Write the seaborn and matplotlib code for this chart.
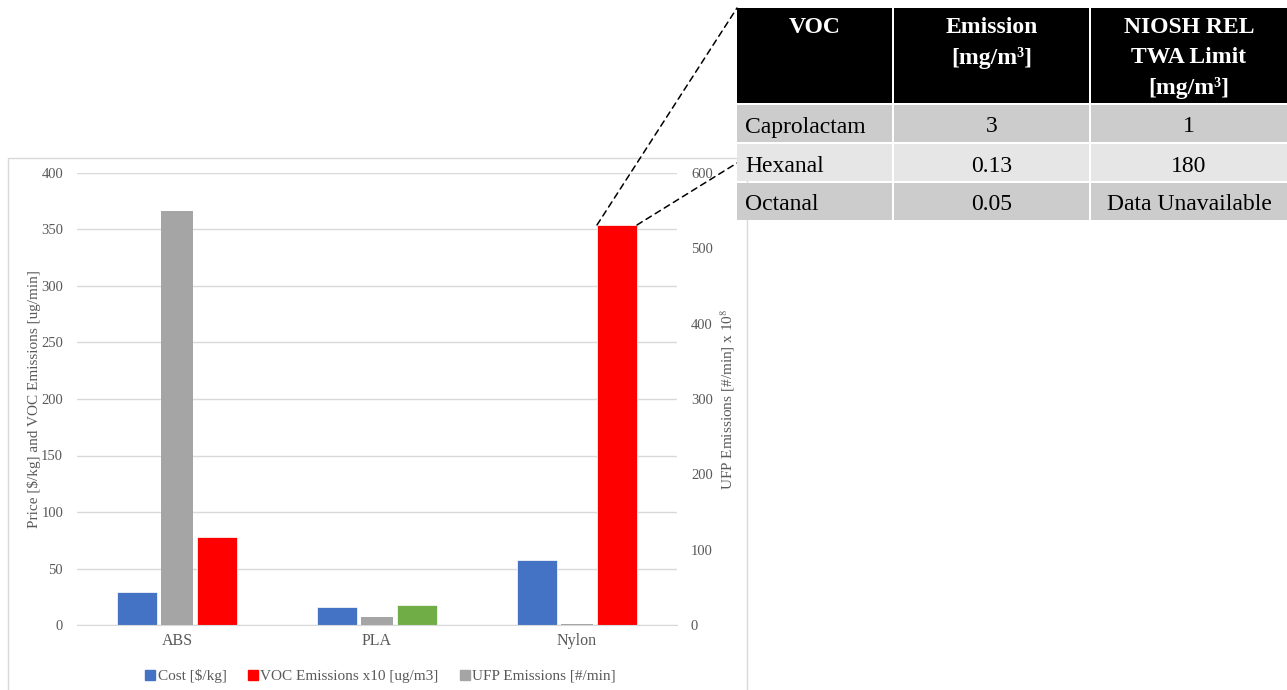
import numpy as np
import pandas as pd
import matplotlib
matplotlib.use('Agg')
import matplotlib.pyplot as plt
import seaborn as sns
from matplotlib.lines import Line2D
from matplotlib.patches import Rectangle, ConnectionPatch

# data
materials = ['ABS', 'PLA', 'Nylon']
cost = [29, 16, 57.5]            # $/kg
voc_x10 = [78, 17.8, 354]        # VOC emissions x10 [ug/m3]
ufp = [549, 10.7, 1.5]           # UFP emissions [#/min] x 1e8

series = ['Cost [$/kg]', 'UFP Emissions [#/min]', 'VOC Emissions x10 [ug/m3]']
colors = {'Cost [$/kg]': '#4472C4', 'UFP Emissions [#/min]': '#A5A5A5',
          'VOC Emissions x10 [ug/m3]': '#FF0000'}
pla_voc_color = '#70AD47'

# table data
tbl_header = ['VOC', 'Emission\n[mg/m³]', 'NIOSH REL\nTWA Limit\n[mg/m³]']
tbl_voc = ['Caprolactam', 'Hexanal', 'Octanal']
tbl_emission = ['3', '0.13', '0.05']
tbl_limit = ['1', '180', 'Data Unavailable']

prim = pd.DataFrame({
    'Material': materials * 3,
    'Series': [series[0]] * 3 + [series[1]] * 3 + [series[2]] * 3,
    'Value': cost + [np.nan] * 3 + voc_x10,
})
sec = pd.DataFrame({
    'Material': materials * 3,
    'Series': [series[0]] * 3 + [series[1]] * 3 + [series[2]] * 3,
    'Value': [np.nan] * 3 + ufp + [np.nan] * 3,
})

sns.set_style('white')
plt.rcParams['font.family'] = ['Liberation Serif', 'DejaVu Serif']
plt.rcParams['mathtext.fontset'] = 'stix'

W, H = 1287, 690
fig = plt.figure(figsize=(12.87, 6.90), dpi=100)

# chart frame
frame = Rectangle((8 / W, -0.01), (747 - 8) / W, (690 - 158) / H + 0.01,
                  transform=fig.transFigure, fill=False,
                  edgecolor='#d9d9d9', linewidth=1, zorder=0.5)
fig.add_artist(frame)

ax = fig.add_axes([77 / W, 65 / H, 600 / W, 452 / H])
sns.barplot(data=prim, x='Material', y='Value', hue='Series', hue_order=series,
            palette=colors, saturation=1, width=0.6, dodge=True, errorbar=None,
            legend=False, edgecolor='white', linewidth=0.5, ax=ax, zorder=2)
for p in ax.patches:
    if np.isclose(p.get_height(), voc_x10[1]):
        p.set_facecolor(pla_voc_color)

ax2 = ax.twinx()
sns.barplot(data=sec, x='Material', y='Value', hue='Series', hue_order=series,
            palette=colors, saturation=1, width=0.6, dodge=True, errorbar=None,
            legend=False, edgecolor='none', ax=ax2, zorder=2)
for p in ax2.patches:
    cx = p.get_x() + p.get_width() / 2
    p.set_width(0.16)
    p.set_x(cx - 0.08)

ax.set_xlim(-0.5, 2.5)
ax.set_ylim(0, 400)
ax2.set_ylim(0, 600)
ax.set_yticks(range(0, 401, 50))
ax2.set_yticks(range(0, 601, 100))
ax.yaxis.grid(True, color='#d9d9d9', linewidth=1)
ax.set_axisbelow(True)

tick_col = '#595959'
for a in (ax, ax2):
    for s in a.spines.values():
        s.set_visible(False)
    a.tick_params(length=0, labelsize=10.5, labelcolor=tick_col)
ax.spines['bottom'].set_visible(True)
ax.spines['bottom'].set_color('#d9d9d9')
ax.tick_params(axis='x', labelsize=11.5, pad=6)
ax.tick_params(axis='y', pad=10)
ax2.tick_params(axis='y', pad=10)

ax.set_xlabel('')
ax.set_ylabel('Price [$/kg] and VOC Emissions [ug/min]', fontsize=11,
              color=tick_col, labelpad=0)
ax2.set_ylabel(r'UFP Emissions [#/min] x 10$^{8}$', fontsize=11,
               color=tick_col, labelpad=4)

handles = [Line2D([], [], marker='s', linestyle='', markersize=7,
                  color=colors[series[0]]),
           Line2D([], [], marker='s', linestyle='', markersize=7,
                  color=colors[series[2]]),
           Line2D([], [], marker='s', linestyle='', markersize=7,
                  color=colors[series[1]])]
fig.legend(handles, [series[0], series[2], series[1]], loc='center',
           bbox_to_anchor=(380 / W, 1 - 676 / H), ncol=3, frameon=False,
           fontsize=11, handlelength=0.8, handletextpad=0.1,
           columnspacing=1.3, labelcolor=tick_col)

# table (drawn above the chart frame)
tax = fig.add_axes([737 / W, 1 - 221 / H, (W - 737) / W, 213 / H])
tax.set_zorder(3)
tax.set_xlim(737, W)
tax.set_ylim(221, 8)
tax.axis('off')
col_edges = [737, 894, 1091, W + 2]
row_edges = [(8, 103), (105, 143), (144, 182), (183, 221)]
row_fill = ['#cccccc', '#e6e6e6', '#cccccc']
for j in range(3):
    x0, x1 = col_edges[j], col_edges[j + 1]
    tax.add_patch(Rectangle((x0, 8), x1 - x0 - 2, 95, facecolor='black',
                            edgecolor='none', clip_on=False))
    tax.text((x0 + x1) / 2 - 1, 17, tbl_header[j], color='white',
             fontsize=17, fontweight='bold', ha='center', va='top',
             linespacing=1.55)
body = [tbl_voc, tbl_emission, tbl_limit]
for i in range(3):
    y0, y1 = row_edges[i + 1]
    for j in range(3):
        x0, x1 = col_edges[j], col_edges[j + 1]
        tax.add_patch(Rectangle((x0, y0), x1 - x0 - 2, y1 - y0 - 1.5,
                                facecolor=row_fill[i], edgecolor='none',
                                clip_on=False))
        ty = (y0 + y1) / 2 + 3
        if j == 0:
            tax.text(x0 + 8, ty, body[j][i], fontsize=17,
                     ha='left', va='center', color='black')
        else:
            tax.text((x0 + x1) / 2 - 1, ty, body[j][i],
                     fontsize=17, ha='center', va='center', color='black')

# dashed zoom lines from the Nylon VOC bar to the table
nylon_bar = [p for p in ax.patches if np.isclose(p.get_height(), voc_x10[2])][0]
bx0 = nylon_bar.get_x()
bx1 = bx0 + nylon_bar.get_width()
for bx, ty in [(bx0, 8), (bx1, 163)]:
    con = ConnectionPatch(xyA=(bx, voc_x10[2]), coordsA=ax.transData,
                          xyB=(737 / W, 1 - ty / H), coordsB=fig.transFigure,
                          linestyle=(0, (4, 3)), color='black', linewidth=1.1)
    fig.add_artist(con)

fig.savefig('out.png', dpi=100)
